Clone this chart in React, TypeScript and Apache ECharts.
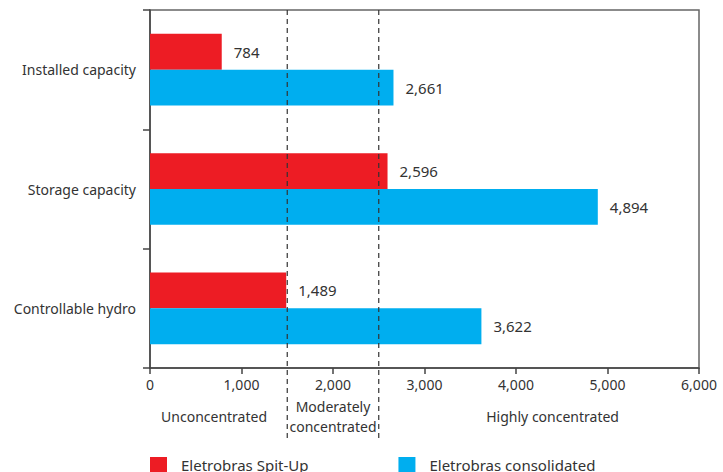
import React, { useEffect, useRef } from "react";
import * as echarts from "echarts";

const categories = ["Installed capacity", "Storage capacity", "Controllable hydro"];
const spinUp = [784, 2596, 1489];
const consolidated = [2661, 4894, 3622];
const xTicks = { min: 0, max: 6000, interval: 1000 };
const thresholds = [1500, 2500];
const zones = [
  { text: "Unconcentrated", at: 700 },
  { text: "Moderately\nconcentrated", at: 2000 },
  { text: "Highly concentrated", at: 4400 },
];
const FONT = "Noto Sans";

export default function App() {
  const ref = useRef<HTMLDivElement>(null);
  useEffect(() => {
    document.body.style.margin = "0";
    const chart = echarts.init(ref.current!, undefined, { renderer: "svg" });
    const fmt = (v: number) => v.toLocaleString("en-US");
    chart.setOption({
      animation: false,
      textStyle: { fontFamily: FONT },
      grid: {
        left: 150, right: 24, top: 10, bottom: 104,
        show: true, borderColor: "#666", borderWidth: 1.5,
      },
      legend: {
        left: 150, top: 457, padding: 0, itemWidth: 17, itemHeight: 16, itemGap: 90,
        icon: "rect",
        textStyle: { fontSize: 15, color: "#333", fontFamily: FONT, padding: [0, 0, 2, 9] },
        data: ["Eletrobras Spit-Up", "Eletrobras consolidated"],
      },
      xAxis: {
        type: "value", ...xTicks,
        splitLine: { show: false },
        axisLine: { show: true, lineStyle: { color: "#444", width: 1.5 } },
        axisTick: { show: true, length: 6, lineStyle: { color: "#444", width: 1.5 } },
        axisLabel: { color: "#333", fontSize: 14, margin: 9, formatter: (v: number) => fmt(v) },
      },
      yAxis: {
        type: "category", data: categories, inverse: true,
        axisLine: { show: true, lineStyle: { color: "#444", width: 1.5 } },
        axisTick: { show: true, length: 7, lineStyle: { color: "#444", width: 1.5 } },
        axisLabel: { color: "#333", fontSize: 14, margin: 14 },
      },
      series: [
        {
          name: "Eletrobras Spit-Up", type: "bar", data: spinUp,
          itemStyle: { color: "#ED1C24" }, barGap: "0%", barCategoryGap: "40%",
          label: { show: true, position: "right", distance: 12, color: "#333", fontSize: 15, fontFamily: FONT, formatter: (p: any) => fmt(p.value) },
        },
        {
          name: "Eletrobras consolidated", type: "bar", data: consolidated,
          itemStyle: { color: "#00AEEF" }, barGap: "0%", barCategoryGap: "40%",
          label: { show: true, position: "right", distance: 12, color: "#333", fontSize: 15, fontFamily: FONT, formatter: (p: any) => fmt(p.value) },
        },
      ],
    });
    const px = (v: number) => chart.convertToPixel({ xAxisIndex: 0 }, v) as number;
    const graphics: any[] = [];
    thresholds.forEach((t) => {
      const x = px(t);
      graphics.push({
        type: "line", z: 10,
        shape: { x1: x, y1: 10, x2: x, y2: 440 },
        style: { stroke: "#333", lineWidth: 1.2, lineDash: [5, 4] },
      });
    });
    zones.forEach((z) => {
      graphics.push({
        type: "text", x: px(z.at), y: 416,
        style: {
          text: z.text, fill: "#333", font: `14px ${FONT}`,
          align: "center", verticalAlign: "middle", lineHeight: 20,
        },
      });
    });
    chart.setOption({ graphic: graphics });
    return () => chart.dispose();
  }, []);
  return <div ref={ref} style={{ width: 723, height: 472 }} />;
}
